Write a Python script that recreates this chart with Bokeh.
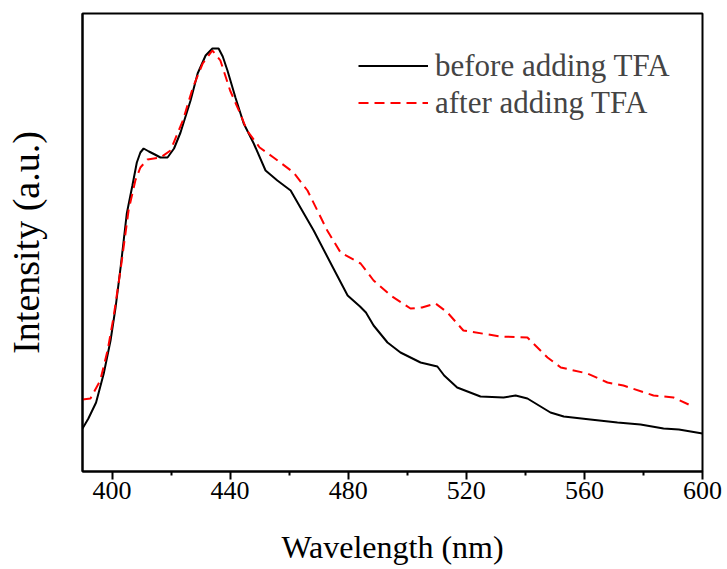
from bokeh.plotting import figure
from bokeh.models import FixedTicker, Range1d, Legend, LegendItem
from bokeh.embed import file_html
from bokeh.resources import INLINE

# wavelength (nm) and intensity (a.u.)
wl_before = [390.0, 392.0, 394.6, 397.2, 399.5, 401.2, 402.9, 405.0, 406.9, 408.4, 409.6, 410.7,
             412.5, 414.5, 416.4, 418.8, 421.0, 423.2, 426.6, 429.0, 431.7, 434.0, 436.1, 437.5,
             439.1, 441.8, 444.6, 448.0, 452.0, 456.0, 460.5, 464.0, 468.3, 475.0, 479.8, 484.0,
             486.0, 488.6, 493.3, 497.7, 504.5, 510.2, 512.5, 516.9, 524.8, 532.6, 536.7, 540.7,
             548.5, 553.0, 562.0, 571.2, 579.0, 586.8, 592.0, 600.0]
int_before = [43, 53, 69, 98, 131, 164, 204, 258, 286, 309, 319, 323,
              320, 317, 314, 314, 323, 339, 371, 398, 416, 423, 423, 415,
              401, 374, 348, 328, 301, 291, 281, 263, 241, 203, 176, 165,
              159, 146, 129, 119, 109, 105, 96, 84, 75, 74, 76, 73,
              59, 55, 52, 49, 47, 43, 42, 38]

wl_after = [390.0, 392.7, 396.0, 398.5, 400.5, 403.0, 405.6, 407.9, 409.6, 412.0, 416.4, 419.8,
            424.0, 427.4, 430.7, 434.0, 436.7, 440.0, 443.4, 445.7, 450.0, 454.7, 461.5, 466.2,
            472.9, 477.4, 484.2, 488.6, 494.4, 501.1, 505.0, 509.6, 513.6, 519.0, 531.6, 540.7,
            547.5, 552.0, 561.0, 567.8, 573.2, 583.4, 590.2, 595.3]
int_after = [72, 73, 91, 121, 154, 204, 261, 291, 304, 312, 314, 321,
             351, 384, 408, 421, 411, 381, 358, 341, 324, 314, 299, 281,
             241, 219, 208, 191, 176, 163, 164, 168, 159, 141, 135, 134,
             114, 104, 98, 89, 86, 76, 74, 67]

x_ticks = [400, 440, 480, 520, 560, 600]
x_minor = [420, 460, 500, 540, 580]
labels = ["before adding TFA", "after adding TFA"]

FONT = "Liberation Serif"

p = figure(width=727, height=569, output_backend="svg", toolbar_location=None,
           x_range=Range1d(390, 600), y_range=Range1d(0, 458),
           min_border_left=82, min_border_right=25, min_border_top=13, min_border_bottom=98)

p.grid.visible = False
p.outline_line_color = "black"
p.outline_line_width = 2
p.background_fill_color = "white"
p.border_fill_color = "white"

r1 = p.line(wl_before, int_before, line_color="black", line_width=2)
r2 = p.line(wl_after, int_after, line_color="#ff0000", line_width=2, line_dash="10 6")

xa = p.xaxis[0]
xa.ticker = FixedTicker(ticks=x_ticks, minor_ticks=x_minor)
xa.axis_line_width = 2
xa.major_tick_line_width = 2
xa.minor_tick_line_width = 2
xa.major_tick_out = 8
xa.major_tick_in = 0
xa.minor_tick_out = 4
xa.minor_tick_in = 0
xa.major_label_text_font = FONT
xa.major_label_text_font_size = "26px"
xa.major_label_text_color = "black"
xa.major_label_standoff = 2
xa.axis_label = "Wavelength (nm)"
xa.axis_label_text_font = FONT
xa.axis_label_text_font_size = "32px"
xa.axis_label_text_font_style = "normal"
xa.axis_label_text_color = "black"
xa.axis_label_standoff = 27

ya = p.yaxis[0]
ya.ticker = FixedTicker(ticks=[])
ya.axis_line_width = 2
ya.major_tick_line_color = None
ya.minor_tick_line_color = None
ya.major_label_text_font_size = "0px"
ya.axis_label = "Intensity (a.u.)"
ya.axis_label_text_font = FONT
ya.axis_label_text_font_size = "38px"
ya.axis_label_text_font_style = "normal"
ya.axis_label_text_color = "black"
ya.axis_label_standoff = 36

legend = Legend(items=[LegendItem(label=labels[0], renderers=[r1]),
                       LegendItem(label=labels[1], renderers=[r2])],
                location=(276, 350), glyph_width=70, glyph_height=37, spacing=0,
                padding=0, margin=0, label_standoff=7, label_height=37,
                label_text_font=FONT, label_text_font_size="31px",
                border_line_color=None, background_fill_alpha=0)
p.add_layout(legend)

open("out.html", "w").write(file_html(p, INLINE))
